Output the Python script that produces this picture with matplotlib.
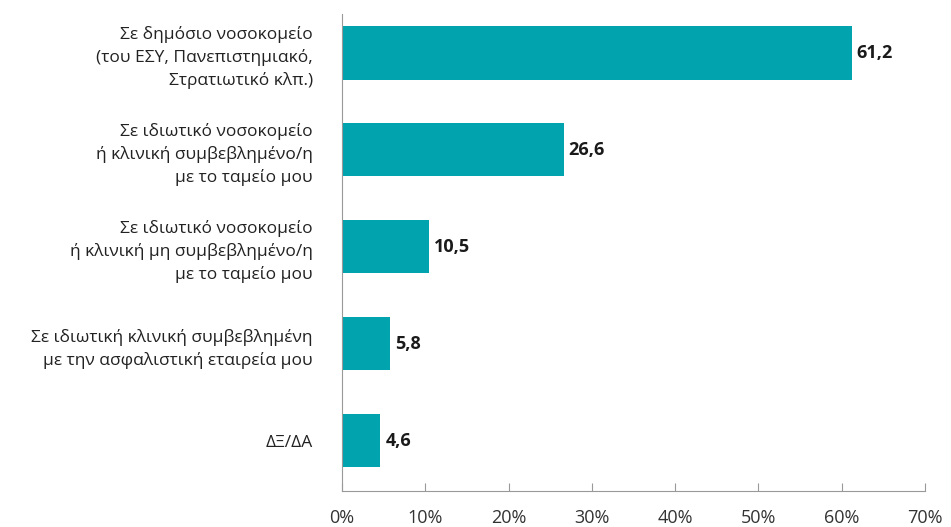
import numpy as np
import matplotlib.pyplot as plt

labels = [
    'Σε δημόσιο νοσοκομείο\n(του ΕΣΥ, Πανεπιστημιακό,\nΣτρατιωτικό κλπ.)',
    'Σε ιδιωτικό νοσοκομείο\nή κλινική συμβεβλημένο/η\nμε το ταμείο μου',
    'Σε ιδιωτικό νοσοκομείο\nή κλινική μη συμβεβλημένο/η\nμε το ταμείο μου',
    'Σε ιδιωτική κλινική συμβεβλημένη\nμε την ασφαλιστική εταιρεία μου',
    'ΔΞ/ΔΑ',
]
values = [61.2, 26.6, 10.5, 5.8, 4.6]
ticks = [0, 10, 20, 30, 40, 50, 60, 70]

plt.rcParams['font.family'] = ['Open Sans', 'DejaVu Sans']

fig = plt.figure(figsize=(9.51, 5.27), dpi=100)
ax = fig.add_axes([0.3596, 0.0683, 0.6131, 0.905])

y = np.arange(len(values))
ax.barh(y, values, height=0.55, color='#00A3AE')
for yi, v in zip(y, values):
    ax.text(v + 0.6, yi, f'{v:.1f}'.replace('.', ','), va='center', ha='left',
            fontsize=13, fontweight='bold', color='#1a1a1a')

ax.set_ylim(4.52, -0.4)
ax.set_xlim(0, 70)
ax.set_yticks(y)
ax.set_yticklabels(labels, fontsize=12.5, color='#222222', ha='right',
                   multialignment='right', linespacing=1.45)
ax.tick_params(axis='y', length=0, pad=21)
ax.set_xticks(ticks)
ax.set_xticklabels([f'{t}%' for t in ticks], fontsize=13, color='#333333')
ax.tick_params(axis='x', direction='in', length=6, color='#999999', pad=13)

for s in ['top', 'right']:
    ax.spines[s].set_visible(False)
ax.spines['left'].set_color('#999999')
ax.spines['bottom'].set_color('#999999')

plt.savefig('out.png', dpi=100)
